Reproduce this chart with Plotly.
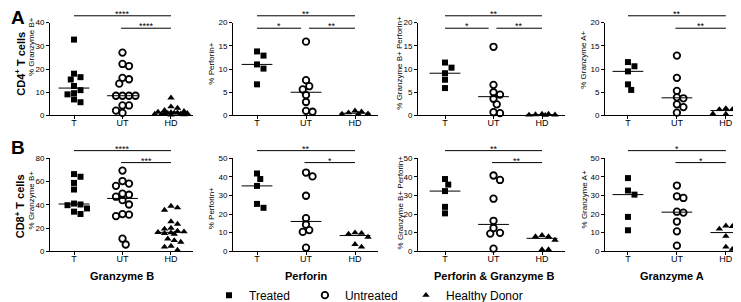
import numpy as np
import plotly.graph_objects as go

# ---------------- data ----------------
categories = ["T", "UT", "HD"]
group_names = ["Treated", "Untreated", "Healthy Donor"]
column_titles = ["Granzyme B", "Perforin", "Perforin &amp; Granzyme B", "Granzyme A"]
row_labels = ["CD4<sup>+</sup> T cells", "CD8<sup>+</sup> T cells"]
panel_letters = ["A", "B"]
y_titles = ["% Granzyme B+", "% Perforin+", "% Granzyme B+ Perforin+", "% Granzyme A+"]

# CD4+ T cells
cd4_gzb_t = [32.7, 18.0, 16.5, 15.5, 12.7, 10.9, 9.6, 9.1, 6.9, 5.7]
cd4_gzb_ut = [27.1, 22.2, 21.3, 16.2, 15.6, 13.7, 8.5, 8.5, 8.5, 8.5, 4.3, 4.3, 2.1, 1.1]
cd4_gzb_hd = [7.6, 3.8, 3.2, 2.2, 1.8, 1.5, 1.3, 1.2, 1.1, 1.0, 0.9, 0.8, 0.7, 0.6, 0.5, 0.4, 0.3]
cd4_prf_t = [13.8, 12.9, 11.0, 10.1, 6.7]
cd4_prf_ut = [15.9, 7.6, 6.3, 5.6, 4.4, 2.9, 1.0, 0.8]
cd4_prf_hd = [1.0, 0.8, 0.6, 0.35, 0.3, 0.3]
cd4_pg_t = [11.4, 10.3, 9.1, 7.7, 5.9]
cd4_pg_ut = [14.8, 6.6, 5.0, 4.5, 3.6, 2.4, 0.7, 0.5]
cd4_pg_hd = [0.3, 0.3, 0.2, 0.15, 0.1, 0.05]
cd4_gza_t = [11.5, 10.6, 9.5, 6.7, 5.5]
cd4_gza_ut = [12.9, 8.1, 5.3, 3.9, 3.7, 2.4, 1.8, 0.6]
cd4_gza_hd = [1.5, 1.3, 1.3, 0.8, 0.35, 0.3]

# CD8+ T cells
cd8_gzb_t = [66.5, 64.2, 58.9, 53.2, 41.1, 40.3, 39.7, 36.9, 34.1, 32.1]
cd8_gzb_ut = [69.5, 60.5, 58.3, 56.4, 49.6, 48.7, 47.0, 44.0, 40.3, 32.0, 31.5, 30.3, 10.8, 5.8]
cd8_gzb_hd = [38.9, 37.5, 35.5, 25.6, 23.4, 20.0, 19.2, 17.5, 16.8, 16.3, 16.0, 15.5, 14.8,
              10.7, 9.3, 7.9, 4.5, 3.7, 1.0]
cd8_prf_t = [41.9, 38.9, 35.2, 25.5, 23.4]
cd8_prf_ut = [42.4, 40.3, 29.9, 17.8, 14.3, 11.4, 10.4, 1.9]
cd8_prf_hd = [10.0, 9.7, 9.3, 7.6, 3.7, 2.3]
cd8_pg_t = [38.9, 35.9, 32.4, 23.9, 20.4]
cd8_pg_ut = [40.8, 38.4, 28.3, 16.4, 12.5, 9.9, 9.5, 1.4]
cd8_pg_hd = [8.6, 7.9, 7.9, 6.0, 0.9, 0.9]
cd8_gza_t = [39.4, 32.7, 30.5, 18.5, 11.3]
cd8_gza_ut = [35.4, 29.6, 28.7, 21.3, 20.8, 16.0, 10.7, 3.0]
cd8_gza_hd = [13.7, 13.4, 12.0, 8.1, 2.3, 1.1]

cd4_y_max = [40, 20, 20, 20]
cd4_y_dtick = [10, 5, 5, 5]
cd8_y_max = [80, 50, 50, 50]
cd8_y_dtick = [20, 10, 10, 10]

# significance brackets: (from, to, label)
cd4_gzb_sig = [("T", "HD", "****"), ("UT", "HD", "****")]
cd4_prf_sig = [("T", "HD", "**"), ("T", "UT", "*"), ("UT", "HD", "**")]
cd4_pg_sig = [("T", "HD", "**"), ("T", "UT", "*"), ("UT", "HD", "**")]
cd4_gza_sig = [("T", "HD", "**"), ("UT", "HD", "**")]
cd8_gzb_sig = [("T", "HD", "****"), ("UT", "HD", "***")]
cd8_prf_sig = [("T", "HD", "**"), ("UT", "HD", "*")]
cd8_pg_sig = [("T", "HD", "**"), ("UT", "HD", "**")]
cd8_gza_sig = [("T", "HD", "*"), ("UT", "HD", "*")]

rows = [
    dict(groups=[(cd4_gzb_t, cd4_gzb_ut, cd4_gzb_hd), (cd4_prf_t, cd4_prf_ut, cd4_prf_hd),
                 (cd4_pg_t, cd4_pg_ut, cd4_pg_hd), (cd4_gza_t, cd4_gza_ut, cd4_gza_hd)],
         sigs=[cd4_gzb_sig, cd4_prf_sig, cd4_pg_sig, cd4_gza_sig],
         ymax=cd4_y_max, dtick=cd4_y_dtick),
    dict(groups=[(cd8_gzb_t, cd8_gzb_ut, cd8_gzb_hd), (cd8_prf_t, cd8_prf_ut, cd8_prf_hd),
                 (cd8_pg_t, cd8_pg_ut, cd8_pg_hd), (cd8_gza_t, cd8_gza_ut, cd8_gza_hd)],
         sigs=[cd8_gzb_sig, cd8_prf_sig, cd8_pg_sig, cd8_gza_sig],
         ymax=cd8_y_max, dtick=cd8_y_dtick),
]

# ---------------- layout / style ----------------
W, H = 741, 302
FONT = "Liberation Sans, Arial, sans-serif"
x_dom_px = [(42, 185), (225, 370), (410, 557), (597, 734)]
x_ranges = [(-0.495, 2.454), (-0.49, 2.469), (-0.557, 2.474), (-0.469, 2.33)]
y_dom_px = [(15, 110), (154, 249)]
ytitle_x_px = [[23, 204, 392, 576], [23, 203, 392, 576]]
ytitle_y_px = [[40, 57, 56, 53], [197, 205, 199, 196]]
row_label_y_px = [57, 203]
letter_y_px = [10, 143]
col_title_x_px = [114.5, 298, 485.5, 664]
col_title_y_px = 274
sig_levels = [dict(top=1.074, low=0.94), dict(top=1.084, low=0.955)]
legend_pad = ["\u00a0\u00a0\u00a0", "\u00a0", ""]

symbols = [
    dict(symbol="square", size=6, color="black"),
    dict(symbol="circle-open", size=6.5, color="black", line=dict(width=1.8, color="black")),
    dict(symbol="triangle-up", size=6.5, color="black"),
]
MARKER_D = 6.5
MAX_SPREAD_PX = 19.0


def swarm_offsets(vals, ypx_per_unit, xpx_per_cat):
    vals = np.asarray(vals, dtype=float)
    offsets = np.zeros(len(vals))
    placed = []
    step = MARKER_D / 2.0
    nmax = int(MAX_SPREAD_PX // step)
    cands = [0.0] + [s * k * step for k in range(1, nmax + 1) for s in (1, -1)]
    for i in np.argsort(-vals, kind="stable"):
        y = vals[i] * ypx_per_unit
        best, best_d = 0.0, -1.0
        for c in cands:
            d = min([np.hypot(c - px, y - py) for px, py in placed] or [1e9])
            if d >= MARKER_D * 0.97:
                best = c
                break
            if d > best_d + 0.5:
                best, best_d = c, d
        placed.append((best, y))
        offsets[i] = best / xpx_per_cat
    return offsets


fig = go.Figure()
layout = dict(
    template="none",
    width=W, height=H, margin=dict(l=0, r=0, t=0, b=0),
    plot_bgcolor="white", paper_bgcolor="white",
    font=dict(family=FONT, color="black", size=9),
    showlegend=True,
    legend=dict(orientation="h", x=201 / W, xanchor="left", y=1 - 294 / H, yanchor="middle",
                font=dict(size=12, family=FONT, color="black"), bgcolor="rgba(0,0,0,0)",
                itemclick=False, tracegroupgap=0),
)
shapes, annotations = [], []

k = 0
for r, row in enumerate(rows):
    yt, yb = y_dom_px[r]
    for c in range(4):
        k += 1
        ax = "" if k == 1 else str(k)
        xa, ya = "x" + ax, "y" + ax
        x0p, x1p = x_dom_px[c]
        rng = x_ranges[c]
        ymax = row["ymax"][c]
        xpx_per_cat = (x1p - x0p) / (rng[1] - rng[0])
        ypx_per_unit = (yb - yt) / ymax
        layout["xaxis" + ax] = dict(
            domain=[x0p / W, x1p / W], range=list(rng), anchor=ya,
            tickmode="array", tickvals=[0, 1, 2], ticktext=categories,
            showline=True, linecolor="black", linewidth=1, ticks="outside", ticklen=3,
            tickwidth=1, tickcolor="black", showgrid=False, zeroline=False,
            tickfont=dict(size=9, family=FONT, color="black"), fixedrange=True,
            ticklabelstandoff=-4,
        )
        layout["yaxis" + ax] = dict(
            domain=[1 - yb / H, 1 - yt / H], range=[0, ymax], anchor=xa,
            tickmode="linear", tick0=0, dtick=row["dtick"][c],
            showline=True, linecolor="black", linewidth=1, ticks="outside", ticklen=3,
            tickwidth=1, tickcolor="black", showgrid=False, zeroline=False,
            tickfont=dict(size=8, family=FONT, color="black"), fixedrange=True,
        )
        groups = row["groups"][c]
        for g, vals in enumerate(groups):
            offs = swarm_offsets(vals, ypx_per_unit, xpx_per_cat)
            fig.add_trace(go.Scatter(
                x=g + offs, y=vals, mode="markers", xaxis=xa, yaxis=ya,
                marker=symbols[g], name=group_names[g] + legend_pad[g],
                legendgroup=group_names[g],
                showlegend=(k == 1), cliponaxis=False, hoverinfo="y",
            ))
        # medians
        fig.add_trace(go.Scatter(
            x=[0, 1, 2], y=[float(np.median(v)) for v in groups], mode="markers",
            xaxis=xa, yaxis=ya, showlegend=False, cliponaxis=False, hoverinfo="y",
            marker=dict(symbol="line-ew", size=22, color="black", line=dict(width=1, color="black")),
        ))
        # significance brackets
        sigs = row["sigs"][c]
        has_t_ut = any(a == "T" and b == "UT" for a, b, _ in sigs)
        for a, b, lab in sigs:
            ia, ib = categories.index(a), categories.index(b)
            level = sig_levels[r]["top"] if ib - ia == 2 else sig_levels[r]["low"]
            xs = ia + (0.06 if (ia == 1 and has_t_ut) else (-0.03 if ia == 1 else 0))
            xe = ib - (0.1 if ib == 1 else 0)
            shapes.append(dict(
                type="line", xref=xa + " domain", yref=ya + " domain",
                x0=(xs - rng[0]) / (rng[1] - rng[0]), x1=(xe - rng[0]) / (rng[1] - rng[0]),
                y0=level, y1=level, line=dict(color="black", width=1),
            ))
            annotations.append(dict(
                x=(xs + xe) / 2, y=level, xref=xa, yref=ya + " domain", text=lab,
                showarrow=False, yanchor="middle", yshift=2,
                font=dict(size=9, family=FONT, color="black"),
            ))
        # y-axis title
        annotations.append(dict(
            x=ytitle_x_px[r][c] / W, y=1 - ytitle_y_px[r][c] / H, xref="paper", yref="paper",
            text=y_titles[c], textangle=-90, showarrow=False, xanchor="center", yanchor="middle",
            font=dict(size=8, family=FONT, color="black"),
        ))
    # row label & letter
    annotations.append(dict(
        x=12 / W, y=1 - row_label_y_px[r] / H, xref="paper", yref="paper",
        text="<b>" + row_labels[r] + "</b>", textangle=-90, showarrow=False,
        xanchor="center", yanchor="middle", font=dict(size=11, family=FONT, color="black"),
    ))
    annotations.append(dict(
        x=10 / W, y=1 - letter_y_px[r] / H, xref="paper", yref="paper",
        text="<b>" + panel_letters[r] + "</b>", showarrow=False,
        xanchor="center", yanchor="middle", font=dict(size=19, family=FONT, color="black"),
    ))

for c in range(4):
    annotations.append(dict(
        x=col_title_x_px[c] / W, y=1 - col_title_y_px / H, xref="paper", yref="paper",
        text="<b>" + column_titles[c] + "</b>", showarrow=False,
        xanchor="center", yanchor="middle", font=dict(size=11, family=FONT, color="black"),
    ))

layout["shapes"] = shapes
layout["annotations"] = annotations
fig.update_layout(**layout)
fig.write_html("out.html", include_plotlyjs=True, config=dict(displayModeBar=False))
